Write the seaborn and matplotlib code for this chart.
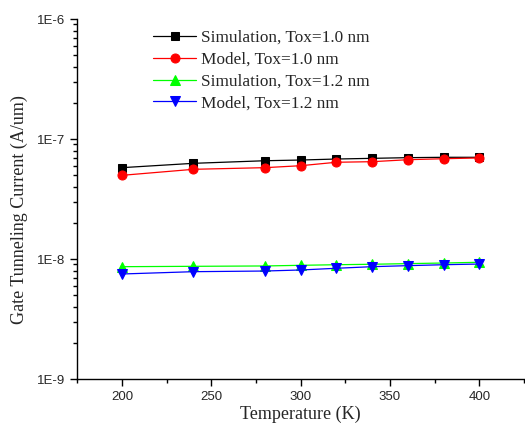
import numpy as np
import pandas as pd
import seaborn as sns
import matplotlib
matplotlib.use("Agg")
import matplotlib.pyplot as plt
from matplotlib.ticker import LogLocator, FixedLocator, FuncFormatter, NullFormatter, MultipleLocator

temperature = [200, 240, 280, 300, 320, 340, 360, 380, 400]
sim_tox10 = [5.77e-8, 6.27e-8, 6.59e-8, 6.68e-8, 6.81e-8, 6.90e-8, 6.99e-8, 7.04e-8, 7.04e-8]
model_tox10 = [4.98e-8, 5.59e-8, 5.77e-8, 5.99e-8, 6.40e-8, 6.47e-8, 6.72e-8, 6.85e-8, 6.95e-8]
sim_tox12 = [8.63e-9, 8.69e-9, 8.75e-9, 8.86e-9, 8.96e-9, 9.04e-9, 9.15e-9, 9.26e-9, 9.39e-9]
model_tox12 = [7.50e-9, 7.84e-9, 7.94e-9, 8.10e-9, 8.37e-9, 8.63e-9, 8.80e-9, 8.96e-9, 9.08e-9]
series_labels = ["Simulation, Tox=1.0 nm", "Model, Tox=1.0 nm",
                 "Simulation, Tox=1.2 nm", "Model, Tox=1.2 nm"]
y_tick_values = [1e-9, 1e-8, 1e-7, 1e-6]
y_tick_labels = ["1E-9", "1E-8", "1E-7", "1E-6"]
x_tick_values = [200, 250, 300, 350, 400]

sns.set_style("white")
plt.rcParams["font.family"] = ["Liberation Serif", "DejaVu Serif"]

fig = plt.figure(figsize=(5.25, 4.33), dpi=100)
ax = fig.add_axes([77.3 / 525, 1 - 379 / 433, (524 - 77.3) / 525, (379 - 19) / 433])

styles = [("black", "s", 5.5), ("red", "o", 6.5), ("#00ff00", "^", 7), ("blue", "v", 7)]
for vals, lab, (col, mk, ms) in zip([sim_tox10, model_tox10, sim_tox12, model_tox12], series_labels, styles):
    df = pd.DataFrame({"T": temperature, "I": vals})
    sns.lineplot(data=df, x="T", y="I", ax=ax, color=col, marker=mk, markersize=ms,
                 markeredgecolor=col, linewidth=0.9, label=lab)

ax.set_yscale("log")
ax.set_ylim(1e-9, 1e-6)
ax.set_xlim(175, 425)
ax.yaxis.set_major_locator(FixedLocator(y_tick_values))
ax.yaxis.set_major_formatter(FuncFormatter(lambda v, p: y_tick_labels[y_tick_values.index(min(y_tick_values, key=lambda t: abs(np.log10(t) - np.log10(v))))]))
ax.yaxis.set_minor_locator(LogLocator(base=10, subs=np.arange(2, 10)))
ax.yaxis.set_minor_formatter(NullFormatter())
ax.xaxis.set_major_locator(FixedLocator(x_tick_values))
ax.xaxis.set_minor_locator(MultipleLocator(25))

for s in ["top", "right"]:
    ax.spines[s].set_visible(False)
for s in ["left", "bottom"]:
    ax.spines[s].set_color("black")
    ax.spines[s].set_linewidth(1.0)

ax.tick_params(axis="both", which="major", direction="out", length=5, width=1, color="black",
               labelsize=9.5, left=True, bottom=True)
ax.tick_params(axis="both", which="minor", direction="out", length=3, width=1, color="black",
               left=True, bottom=True)
for lbl in ax.get_xticklabels() + ax.get_yticklabels():
    lbl.set_fontfamily(["Liberation Sans", "DejaVu Sans"])

ax.set_xlabel("Temperature (K)", fontsize=13, labelpad=2)
ax.set_ylabel("Gate Tunneling Current (A/um)", fontsize=13)
ax.yaxis.set_label_coords(-0.11, 0.472)

leg = ax.legend(loc="upper left", bbox_to_anchor=(153 / 525, 1 - 30 / 433),
                bbox_transform=fig.transFigure, frameon=False, fontsize=12.4,
                handlelength=2.5, handletextpad=0.3, borderpad=0, borderaxespad=0,
                labelspacing=0.33)

fig.savefig("out.png", dpi=100)
